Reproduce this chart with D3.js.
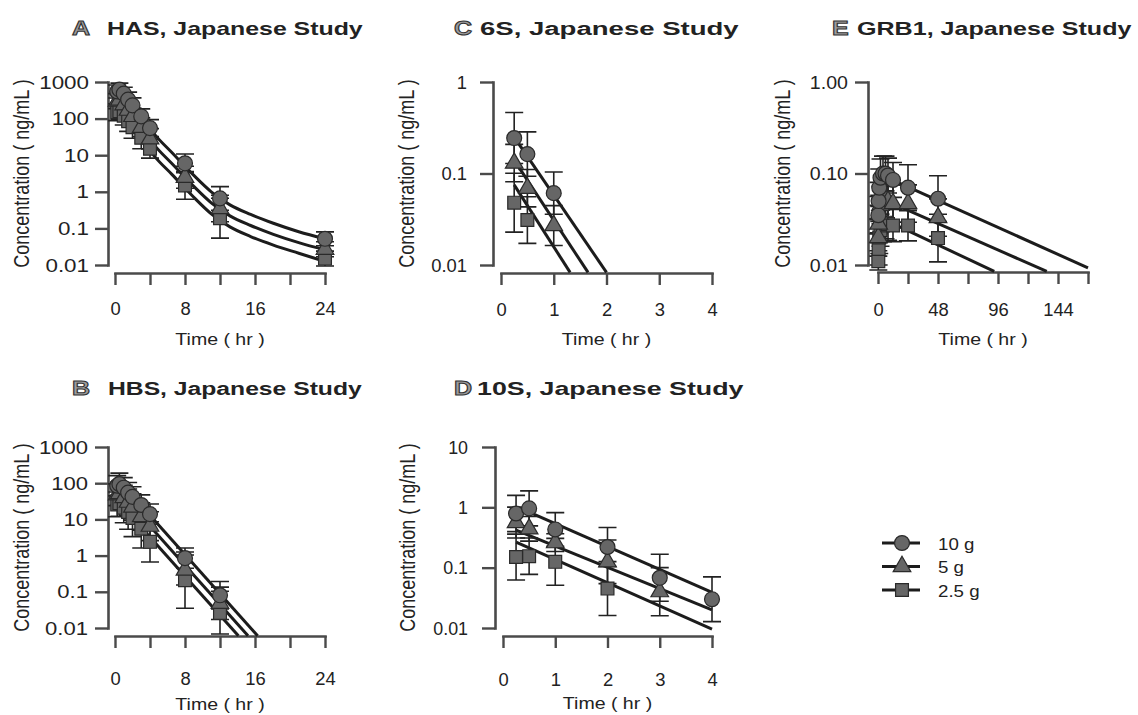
<!DOCTYPE html>
<html>
<head>
<meta charset="utf-8">
<script src="https://cdn.jsdelivr.net/npm/d3@7"></script>
<style>
  html, body { margin: 0; padding: 0; background: #fff; }
  svg { display: block; }
</style>
</head>
<body>
<svg id="chart" width="1138" height="715"></svg>
<script>
// ---------------- data ----------------
// Doses (legend order)
const doseLabels = ["10 g", "5 g", "2.5 g"];

// A: HAS
const hasTime = [0.25, 0.5, 1, 1.5, 2, 3, 4, 8, 12, 24];
const has10 = [550, 620, 480, 330, 230, 115, 55, 6.0, 0.66, 0.052];
const has5  = [300, 320, 240, 170, 115, 58, 28, 2.5, 0.35, 0.027];
const has25 = [150, 160, 120, 85, 58, 30, 15, 1.5, 0.19, 0.015];
const has10Err = [1.5, 1.5, 1.5, 1.6, 1.6, 1.6, 1.7, 1.8, 2.1, 1.55];
const has5Err  = [1.6, 1.6, 1.6, 1.7, 1.7, 1.8, 1.9, 2.0, 2.3, 1.6];
const has25Err = [1.7, 1.7, 1.8, 1.9, 2.0, 2.0, 1.8, 2.4, 3.5, 1.6];
const hasFitTime = [0.25, 1, 2, 3, 4.57, 6.5, 8.95, 11, 13.14, 15.5, 18.1, 21, 24];
const hasFit10 = [560, 480, 240, 115, 36, 11.8, 2.9, 1.0, 0.44, 0.24, 0.138, 0.081, 0.052];
const hasFit5  = [280, 240, 120, 57, 18, 5.9, 1.45, 0.5, 0.22, 0.12, 0.069, 0.041, 0.026];
const hasFit25 = [140, 120, 60, 29, 9, 3.0, 0.73, 0.25, 0.11, 0.06, 0.035, 0.021, 0.0125];

// B: HBS
const hbsTime = [0.25, 0.5, 1, 1.5, 2, 3, 4, 8, 12];
const hbs10 = [85, 95, 75, 55, 42, 25, 14, 0.85, 0.08];
const hbs5  = [48, 52, 40, 30, 22, 12, 6.5, 0.4, 0.048];
const hbs25 = [26, 28, 21, 16, 11, 5.5, 2.4, 0.21, 0.026];
const hbs10Err = [1.9, 2.0, 1.9, 1.9, 1.9, 1.9, 1.9, 1.9, 2.4];
const hbs5Err  = [2.0, 2.1, 2.2, 2.3, 2.3, 2.4, 2.5, 2.6, 2.8];
const hbs25Err = [2.2, 2.3, 2.6, 3.0, 3.3, 3.4, 3.6, 6.0, 4.0];
const hbsFit10 = [[0.5, 114], [16.3, 0.0061]];
const hbsFit5  = [[0.5, 57], [15.2, 0.0061]];
const hbsFit25 = [[0.5, 28.5], [14.1, 0.0061]];

// C: 6S
const s6Time = [0.25, 0.5, 1];
const s6_10 = [0.244, 0.163, 0.061];
const s6_5  = [0.13, 0.069, 0.027];
const s6_25 = [0.048, 0.031, null];
const s6_10Err = [1.9, 1.75, 1.7];
const s6_5Err  = [1.6, 1.6, 1.65];
const s6_25Err = [2.1, 1.8, null];
const s6Fit10 = [[0.25, 0.25], [2.0, 0.0083]];
const s6Fit5  = [[0.25, 0.14], [1.65, 0.0083]];
const s6Fit25 = [[0.25, 0.075], [1.31, 0.0083]];

// D: 10S
const s10Time = [0.25, 0.5, 1, 2, 3, 4];
const s10_10 = [0.79, 0.96, 0.43, 0.22, 0.068, 0.030];
const s10_5  = [0.56, 0.44, 0.26, 0.125, 0.040, null];
const s10_25 = [0.15, 0.155, 0.125, 0.045, null, null];
const s10_10Err = [2.0, 1.95, 1.9, 2.1, 2.45, 2.35];
const s10_5Err  = [1.8, 1.6, 1.4, 2.3, 2.5, null];
const s10_25Err = [2.4, 2.0, 2.45, 2.8, null, null];
const s10Fit10 = [[0.5, 0.835], [4, 0.039]];
const s10Fit5  = [[0.25, 0.42], [4, 0.020]];
const s10Fit25 = [[0.25, 0.266], [4, 0.0096]];

// E: GRB1
const grbTime = [0.25, 0.5, 1, 2, 4, 6, 8, 12, 24, 48];
const grb10 = [0.035, 0.05, 0.07, 0.09, 0.1, 0.1, 0.095, 0.085, 0.07, 0.053];
const grb5  = [0.02, 0.028, 0.036, 0.045, 0.05, 0.052, 0.05, 0.047, 0.047, 0.033];
const grb25 = [0.011, 0.015, 0.02, 0.024, 0.027, 0.029, 0.028, 0.027, 0.027, 0.0197];
const grb10Err = [1.6, 1.6, 1.6, 1.6, 1.55, 1.55, 1.55, 1.55, 1.78, 1.78];
const grb5Err  = [1.6, 1.6, 1.6, 1.6, 1.6, 1.6, 1.6, 1.6, 1.6, 1.6];
const grb25Err = [1.3, 1.5, 1.5, 1.5, 1.5, 1.5, 1.5, 1.5, 1.47, 1.82];
const grbFit10 = [[6, 0.092], [168, 0.0093]];
const grbFit5  = [[6, 0.051], [135, 0.0085]];
const grbFit25 = [[6, 0.031], [93, 0.0085]];

// Tick values and labels
const hourTicks24 = [0, 4, 8, 12, 16, 20, 24];
const hourLabels24 = ["0", "", "8", "", "16", "", "24"];
const hourTicks4 = [0, 1, 2, 3, 4];
const hourLabels4 = ["0", "1", "2", "3", "4"];
const hourTicks168 = [0, 24, 48, 72, 96, 120, 144, 168];
const hourLabels168 = ["0", "", "48", "", "96", "", "144", ""];
const concTicksBig = [0.01, 0.1, 1, 10, 100, 1000];
const concLabelsBig = ["0.01", "0.1", "1", "10", "100", "1000"];
const concTicks1 = [0.01, 0.1, 1];
const concLabels1 = ["0.01", "0.1", "1"];
const concTicks10 = [0.01, 0.1, 1, 10];
const concLabels10 = ["0.01", "0.1", "1", "10"];
const concLabelsGrb = ["0.01", "0.10", "1.00"];

// ---------------- drawing ----------------
const FONT = "'Liberation Sans', Arial, Helvetica, sans-serif";
const svg = d3.select("#chart");
const INK = "#1c1c1c";
const AXIS = "#4a4a4a";
const MARK_FILL = "#666666";
const MARK_STROKE = "#2a2a2a";

const symCircle = d3.symbol().type(d3.symbolCircle).size(175)();
const symTriangle = d3.symbol().type(d3.symbolTriangle).size(135)();
const symSquare = d3.symbol().type(d3.symbolSquare).size(165)();
const doseSymbols = [symCircle, symTriangle, symSquare];

function label(g, x, y, str, o) {
  const t = g.append("text")
    .attr("transform", `translate(${x},${y}) scale(${o.sx || 1},1)`)
    .attr("text-anchor", o.anchor || "start")
    .attr("font-family", FONT)
    .attr("font-size", o.size)
    .attr("font-weight", o.weight || "normal")
    .attr("fill", o.fill || "#222")
    .text(str);
  if (o.stroke) t.attr("stroke", o.stroke).attr("stroke-width", 1);
  return t;
}

function styleAxis(a) {
  a.attr("font-family", FONT).attr("font-size", 17.5);
  a.select(".domain").attr("stroke", AXIS).attr("stroke-width", 2.6).attr("stroke-linecap", "square");
  a.selectAll(".tick line").attr("stroke", AXIS).attr("stroke-width", 2.4);
  a.selectAll(".tick text").attr("fill", "#222");
}

function drawPanel(p) {
  const x = d3.scaleLinear().domain([0, p.xMax]).range([p.x0, p.x1]);
  const y = d3.scaleLog().domain(p.yDomain).range([p.yBot, p.yTop]);
  const g = svg.append("g");

  // panel heading
  label(g, p.letterX, p.titleY, p.letter, { size: 20, weight: "bold", sx: 1.25, fill: "#9c9c9c", stroke: "#333" });
  label(g, p.titleX, p.titleY, p.title, { size: 19, weight: "bold", sx: p.titleSx, fill: "#222" });

  // y axis
  const ya = g.append("g").attr("transform", `translate(${p.yAxisX},0)`)
    .call(d3.axisLeft(y).tickValues(p.yTicks)
      .tickFormat(d => p.yTickLabels[p.yTicks.indexOf(d)])
      .tickSizeInner(13).tickSizeOuter(0).tickPadding(p.yPad));
  styleAxis(ya);
  ya.selectAll(".tick text")
    .attr("x", null).attr("dy", "0.35em")
    .attr("transform", `translate(${-(13 + p.yPad)},0) scale(${p.ySx},1)`);

  // x axis
  const xa = g.append("g").attr("transform", `translate(0,${p.xAxisY})`)
    .call(d3.axisBottom(x).tickValues(p.xTicks)
      .tickFormat(d => p.xTickLabels[p.xTicks.indexOf(d)])
      .tickSizeInner(12).tickSizeOuter(0));
  styleAxis(xa);
  xa.selectAll(".tick text")
    .attr("y", null).attr("dy", null)
    .attr("transform", `translate(0,${p.xLabelY - p.xAxisY}) scale(1.05,1)`);

  // axis titles
  label(g, (p.x0 + p.x1) / 2, p.xTitleY, "Time ( hr )", { size: 17, sx: 1.15, anchor: "middle" });
  g.append("text")
    .attr("transform", `translate(${p.yTitleX},${(p.yTop + p.yBot) / 2}) scale(1.18,1) rotate(-90)`)
    .attr("text-anchor", "middle")
    .attr("font-family", FONT).attr("font-size", 18).attr("fill", "#222")
    .text("Concentration ( ng/mL )");

  // fitted profiles
  const line = d3.line().x(d => x(d[0])).y(d => y(d[1])).curve(p.curve || d3.curveLinear);
  p.fits.forEach(f => {
    g.append("path").datum(f).attr("d", line)
      .attr("fill", "none").attr("stroke", INK).attr("stroke-width", 3)
      .attr("stroke-linecap", "butt");
  });

  // observed means with error bars (2.5 g drawn first, 10 g on top)
  const series = p.series.map((s, k) => ({
    sym: doseSymbols[k],
    pts: p.time.map((t, i) => ({ t, v: s.vals[i], f: s.errs[i] })).filter(d => d.v != null)
  })).reverse();

  const cap = 9;
  series.forEach(s => {
    s.pts.forEach(d => {
      const cx = x(d.t);
      const yHi = y(d.v * d.f);
      const yLo = Math.min(y(d.v / d.f), p.xAxisY - 2);
      g.append("path")
        .attr("d", `M${cx},${yHi}V${yLo}M${cx - cap},${yHi}H${cx + cap}M${cx - cap},${yLo}H${cx + cap}`)
        .attr("fill", "none").attr("stroke", "#222").attr("stroke-width", 1.6);
    });
  });
  series.forEach(s => {
    g.append("g").selectAll("path").data(s.pts).join("path")
      .attr("d", s.sym)
      .attr("transform", d => `translate(${x(d.t)},${y(d.v)})`)
      .attr("fill", MARK_FILL).attr("stroke", MARK_STROKE).attr("stroke-width", 1.2);
  });
}

// Panel A
drawPanel({
  letter: "A", title: "HAS, Japanese Study", letterX: 72, titleX: 107, titleY: 35, titleSx: 1.31,
  xMax: 24, x0: 115, x1: 325, xAxisY: 273, xTicks: hourTicks24, xTickLabels: hourLabels24, xLabelY: 315, xTitleY: 345,
  yDomain: [0.01, 1000], yTop: 82, yBot: 265, yAxisX: 108, yTicks: concTicksBig, yTickLabels: concLabelsBig,
  yPad: 6, ySx: 1.28, yTitleX: 29,
  time: hasTime,
  series: [{ vals: has10, errs: has10Err }, { vals: has5, errs: has5Err }, { vals: has25, errs: has25Err }],
  fits: [d3.zip(hasFitTime, hasFit10), d3.zip(hasFitTime, hasFit5), d3.zip(hasFitTime, hasFit25)],
  curve: d3.curveMonotoneX
});

// Panel B
drawPanel({
  letter: "B", title: "HBS, Japanese Study", letterX: 72, titleX: 108, titleY: 395, titleSx: 1.3,
  xMax: 24, x0: 115, x1: 325, xAxisY: 636, xTicks: hourTicks24, xTickLabels: hourLabels24, xLabelY: 685, xTitleY: 710,
  yDomain: [0.01, 1000], yTop: 447, yBot: 628, yAxisX: 108, yTicks: concTicksBig, yTickLabels: concLabelsBig,
  yPad: 7, ySx: 1.26, yTitleX: 29,
  time: hbsTime,
  series: [{ vals: hbs10, errs: hbs10Err }, { vals: hbs5, errs: hbs5Err }, { vals: hbs25, errs: hbs25Err }],
  fits: [hbsFit10, hbsFit5, hbsFit25]
});

// Panel C
drawPanel({
  letter: "C", title: "6S, Japanese Study", letterX: 454, titleX: 480, titleY: 35, titleSx: 1.45,
  xMax: 4, x0: 501, x1: 712, xAxisY: 273, xTicks: hourTicks4, xTickLabels: hourLabels4, xLabelY: 316, xTitleY: 345,
  yDomain: [0.01, 1], yTop: 82, yBot: 265, yAxisX: 493, yTicks: concTicks1, yTickLabels: concLabels1,
  yPad: 13, ySx: 1.05, yTitleX: 414,
  time: s6Time,
  series: [{ vals: s6_10, errs: s6_10Err }, { vals: s6_5, errs: s6_5Err }, { vals: s6_25, errs: s6_25Err }],
  fits: [s6Fit10, s6Fit5, s6Fit25]
});

// Panel D
drawPanel({
  letter: "D", title: "10S, Japanese Study", letterX: 454, titleX: 477, titleY: 395, titleSx: 1.41,
  xMax: 4, x0: 503, x1: 712, xAxisY: 636, xTicks: hourTicks4, xTickLabels: hourLabels4, xLabelY: 686, xTitleY: 709,
  yDomain: [0.01, 10], yTop: 447, yBot: 628, yAxisX: 495, yTicks: concTicks10, yTickLabels: concLabels10,
  yPad: 14, ySx: 1.02, yTitleX: 415,
  time: s10Time,
  series: [{ vals: s10_10, errs: s10_10Err }, { vals: s10_5, errs: s10_5Err }, { vals: s10_25, errs: s10_25Err }],
  fits: [s10Fit10, s10Fit5, s10Fit25]
});

// Panel E
drawPanel({
  letter: "E", title: "GRB1, Japanese Study", letterX: 832, titleX: 857, titleY: 35, titleSx: 1.32,
  xMax: 168, x0: 878, x1: 1088, xAxisY: 272, xTicks: hourTicks168, xTickLabels: hourLabels168, xLabelY: 316, xTitleY: 345,
  yDomain: [0.01, 1], yTop: 82, yBot: 265, yAxisX: 868, yTicks: concTicks1, yTickLabels: concLabelsGrb,
  yPad: 7, ySx: 1.12, yTitleX: 790,
  time: grbTime,
  series: [{ vals: grb10, errs: grb10Err }, { vals: grb5, errs: grb5Err }, { vals: grb25, errs: grb25Err }],
  fits: [grbFit10, grbFit5, grbFit25]
});

// Legend
const legend = svg.append("g").attr("transform", "translate(882,543)");
doseLabels.forEach((lab, i) => {
  const row = legend.append("g").attr("transform", `translate(0,${i * 23.5})`);
  row.append("line").attr("x1", 0).attr("x2", 38).attr("y1", 0).attr("y2", 0)
    .attr("stroke", INK).attr("stroke-width", 3);
  row.append("path").attr("d", doseSymbols[i]).attr("transform", "translate(20,0)")
    .attr("fill", MARK_FILL).attr("stroke", MARK_STROKE).attr("stroke-width", 1.2);
  label(row, 56, 6.5, lab, { size: 17, sx: 1.1 });
});
</script>
</body>
</html>
